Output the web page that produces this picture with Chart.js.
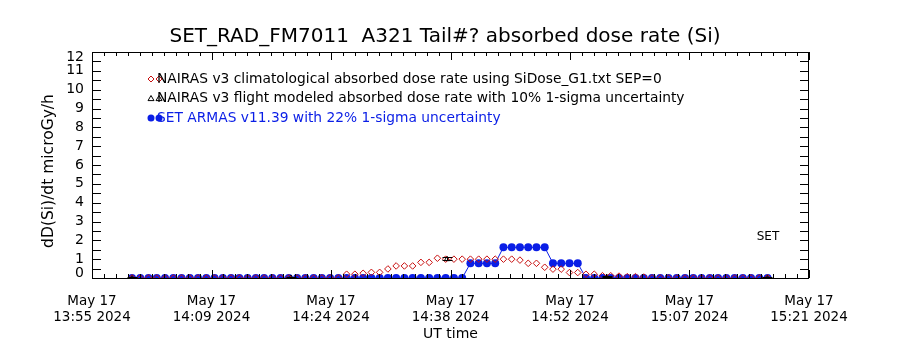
<!DOCTYPE html>
<html>
<head>
<meta charset="utf-8">
<script src="https://cdn.jsdelivr.net/npm/chart.js@4.4.1/dist/chart.umd.min.js"></script>
<style>
  html, body { margin: 0; background: #fff; }
</style>
</head>
<body>
<canvas id="doseChart" width="900" height="350"></canvas>
<script>
// x axis: clock time (UT) on May 17 2024
const axisStart = '13:55:00';
const axisEnd = '15:21:00';
const dateLabels = ['May 17', 'May 17', 'May 17', 'May 17', 'May 17', 'May 17', 'May 17'];
const timeLabels = ['13:55 2024', '14:09 2024', '14:24 2024', '14:38 2024', '14:52 2024', '15:07 2024', '15:21 2024'];
const yTickLabels = [0, 1, 2, 3, 4, 5, 6, 7, 8, 9, 10, 11, 12];

// ARMAS / NAIRAS samples, one record per ~59 s
const sampleStart = '13:59:48';
const sampleCadenceSec = 59.4;

const nairasClim = [
  0, 0, 0, 0, 0, 0, 0, 0, 0, 0,
  0, 0, 0, 0, 0, 0, 0, 0, 0, 0,
  0, 0, 0, 0, 0, 0, 0.2, 0.2, 0.25, 0.3,
  0.3, 0.48, 0.64, 0.64, 0.64, 0.83, 0.83, 1.05, 1.0, 1.0,
  1.0, 1.0, 1.0, 1.0, 1.0, 1.0, 1.0, 0.95, 0.78, 0.78,
  0.57, 0.47, 0.47, 0.29, 0.29, 0.2, 0.2, 0.12, 0.12, 0.1,
  0.07, 0.07, 0.05, 0, 0, 0, 0, 0, 0, 0,
  0, 0, 0, 0, 0, 0, 0, 0
];
const armasDose = [
  0, 0, 0, 0, 0, 0, 0, 0, 0, 0,
  0, 0, 0, 0, 0, 0, 0, 0, 0, 0,
  0, 0, 0, 0, 0, 0, 0, 0, 0, 0,
  0, 0, 0, 0, 0, 0, 0, 0, 0, 0,
  0, 0.78, 0.78, 0.78, 0.78, 1.63, 1.63, 1.63, 1.63, 1.63,
  1.63, 0.78, 0.78, 0.78, 0.78, 0, 0, 0, 0, 0,
  0, 0, 0, 0, 0, 0, 0, 0, 0, 0,
  0, 0, 0, 0, 0, 0, 0, 0
];

// NAIRAS flight-modeled points (10% 1-sigma)
const flightTimes = ['13:59:48', '14:18:52', '14:37:35', '14:56:46', '15:15:58'];
const flightDose = [0, 0, 1.0, 0.03, 0];
const flightSigma = 0.10;

const legendItems = [
  'NAIRAS v3 climatological absorbed dose rate using SiDose_G1.txt SEP=0',
  'NAIRAS v3 flight modeled absorbed dose rate with 10% 1-sigma uncertainty',
  'SET ARMAS v11.39 with 22% 1-sigma uncertainty'
];

const RED = 'rgb(200,16,16)';
const BLUE = 'rgb(10,30,230)';
const FONT = '"DejaVu Sans", sans-serif';

function toMinutes(hms) {
  const p = hms.split(':').map(Number);
  return p[0] * 60 + p[1] + (p[2] || 0) / 60;
}

const xMin = toMinutes(axisStart);
const xMax = toMinutes(axisEnd);
const t0 = toMinutes(sampleStart);
const sampleTimes = armasDose.map((_, i) => t0 + i * sampleCadenceSec / 60);

const climPts = nairasClim.map((v, i) => ({ x: sampleTimes[i], y: v }));
const armasPts = armasDose.map((v, i) => ({ x: sampleTimes[i], y: v }));
const flightPts = flightDose.map((v, i) => ({ x: toMinutes(flightTimes[i]), y: v }));

function drawMarker(ctx, style, x, y, r, color, fill) {
  ctx.save();
  ctx.strokeStyle = color;
  ctx.fillStyle = color;
  ctx.lineWidth = 1;
  ctx.beginPath();
  if (style === 'diamond') {
    ctx.moveTo(x, y - r); ctx.lineTo(x + r, y); ctx.lineTo(x, y + r); ctx.lineTo(x - r, y); ctx.closePath();
  } else if (style === 'triangle') {
    ctx.moveTo(x, y - r); ctx.lineTo(x + r, y + r * 0.7); ctx.lineTo(x - r, y + r * 0.7); ctx.closePath();
  } else {
    ctx.arc(x, y, r, 0, Math.PI * 2);
  }
  if (fill) ctx.fill(); else ctx.stroke();
  ctx.restore();
}

// frame, inward ticks, labels, title and legend
const framePlugin = {
  id: 'frame',
  afterDatasetsDraw(chart) {
    const { ctx, chartArea: a, scales: { x, y } } = chart;
    ctx.save();

    // error bars on the flight-modeled points
    ctx.save();
    ctx.beginPath();
    ctx.rect(a.left, a.top, a.right - a.left, a.bottom - a.top);
    ctx.clip();
    ctx.strokeStyle = '#000';
    ctx.lineWidth = 1;
    flightPts.forEach(p => {
      const px = Math.round(x.getPixelForValue(p.x)) + 0.5;
      const hi = y.getPixelForValue(p.y * (1 + flightSigma));
      const lo = y.getPixelForValue(p.y * (1 - flightSigma));
      ctx.beginPath();
      ctx.moveTo(px, hi); ctx.lineTo(px, lo);
      ctx.moveTo(px - 5, Math.round(hi) + 0.5); ctx.lineTo(px + 5, Math.round(hi) + 0.5);
      ctx.moveTo(px - 5, Math.round(lo) - 0.5); ctx.lineTo(px + 5, Math.round(lo) - 0.5);
      ctx.stroke();
    });
    ctx.restore();

    ctx.strokeStyle = '#000';
    ctx.lineWidth = 1;
    ctx.strokeRect(a.left + 0.5, a.top + 0.5, a.right - a.left - 1, a.bottom - a.top);

    ctx.beginPath();
    // y ticks every 0.5 on both sides
    for (let v = 0; v <= 12; v += 0.5) {
      const py = Math.round(y.getPixelForValue(v)) + 0.5;
      ctx.moveTo(a.left, py); ctx.lineTo(a.left + 9, py);
      ctx.moveTo(a.right, py); ctx.lineTo(a.right - 9, py);
    }
    // x ticks: majors at the labels, ten minors per interval
    const n = timeLabels.length - 1;
    const step = (xMax - xMin) / n;
    for (let k = 0; k <= n * 10; k++) {
      const px = Math.round(x.getPixelForValue(xMin + k * step / 10)) + 0.5;
      const len = k % 10 === 0 ? 8 : 4;
      ctx.moveTo(px, a.bottom); ctx.lineTo(px, a.bottom - len);
      ctx.moveTo(px, a.top); ctx.lineTo(px, a.top + len);
    }
    ctx.stroke();

    // y tick labels, kept inside the frame at the ends
    ctx.fillStyle = '#000';
    ctx.font = '14px ' + FONT;
    ctx.textAlign = 'right';
    ctx.textBaseline = 'middle';
    yTickLabels.forEach(v => {
      let py = y.getPixelForValue(v);
      py = Math.min(Math.max(py, a.top + 5), a.bottom - 5);
      ctx.fillText(String(v), a.left - 8, py);
    });

    // title
    ctx.textAlign = 'center';
    ctx.font = '20px ' + FONT;
    ctx.fillText('SET_RAD_FM7011  A321 Tail#? absorbed dose rate (Si)', 445, 37);

    // axis titles
    ctx.font = '14px ' + FONT;
    ctx.fillText('UT time', (a.left + a.right) / 2, 334);
    ctx.save();
    ctx.translate(49, 171);
    ctx.rotate(-Math.PI / 2);
    ctx.font = '15.5px ' + FONT;
    ctx.fillText('dD(Si)/dt microGy/h', 0, 0);
    ctx.restore();

    ctx.font = '12px ' + FONT;
    ctx.fillText('SET', 768, 237);

    // legend
    ctx.font = '13.8px ' + FONT;
    ctx.textAlign = 'left';
    const rows = [
      { style: 'diamond', color: RED, fill: false, text: '#000', r: 3 },
      { style: 'triangle', color: '#000', fill: false, text: '#000', r: 3 },
      { style: 'circle', color: BLUE, fill: true, text: BLUE, r: 3.5 }
    ];
    rows.forEach((row, i) => {
      const ly = 79 + i * 19.5;
      drawMarker(ctx, row.style, 151, ly, row.r, row.color, row.fill);
      drawMarker(ctx, row.style, 159, ly, row.r, row.color, row.fill);
      ctx.fillStyle = row.text;
      ctx.fillText(legendItems[i], 157, ly);
    });

    ctx.restore();
  }
};

new Chart(document.getElementById('doseChart'), {
  type: 'scatter',
  data: {
    datasets: [
      {
        label: legendItems[0],
        data: climPts,
        pointStyle: 'rectRot',
        pointRadius: 3.3,
        pointBorderWidth: 1,
        borderColor: RED,
        backgroundColor: 'rgba(0,0,0,0)',
        showLine: false,
        clip: 0
      },
      {
        label: legendItems[1],
        data: flightPts,
        pointStyle: 'triangle',
        pointRadius: 3,
        pointBorderWidth: 1,
        borderColor: '#000',
        backgroundColor: 'rgba(0,0,0,0)',
        showLine: false,
        clip: 0
      },
      {
        label: legendItems[2],
        data: armasPts,
        pointStyle: 'circle',
        pointRadius: 4,
        pointBorderWidth: 0,
        borderColor: BLUE,
        backgroundColor: BLUE,
        borderWidth: 1,
        showLine: true,
        tension: 0,
        clip: 0
      }
    ]
  },
  options: {
    responsive: false,
    animation: false,
    events: [],
    layout: { padding: { left: 0, right: 91, top: 52, bottom: 0 } },
    plugins: { legend: { display: false }, tooltip: { enabled: false } },
    scales: {
      x: {
        type: 'linear',
        min: xMin,
        max: xMax,
        grid: { display: false, drawTicks: false },
        border: { display: false },
        afterBuildTicks(scale) {
          const step = (xMax - xMin) / (timeLabels.length - 1);
          scale.ticks = timeLabels.map((_, k) => ({ value: xMin + k * step }));
        },
        afterFit(scale) { scale.height = 72; },
        ticks: {
          autoSkip: false,
          maxRotation: 0,
          padding: 15,
          color: '#000',
          font: { family: FONT, size: 13.5, lineHeight: 1.22 },
          callback(value, index) { return [dateLabels[index], timeLabels[index]]; }
        }
      },
      y: {
        min: 0,
        max: 12,
        grid: { display: false, drawTicks: false },
        border: { display: false },
        afterFit(scale) { scale.width = 92; },
        ticks: { display: false, stepSize: 1 }
      }
    }
  },
  plugins: [framePlugin]
});
</script>
</body>
</html>
